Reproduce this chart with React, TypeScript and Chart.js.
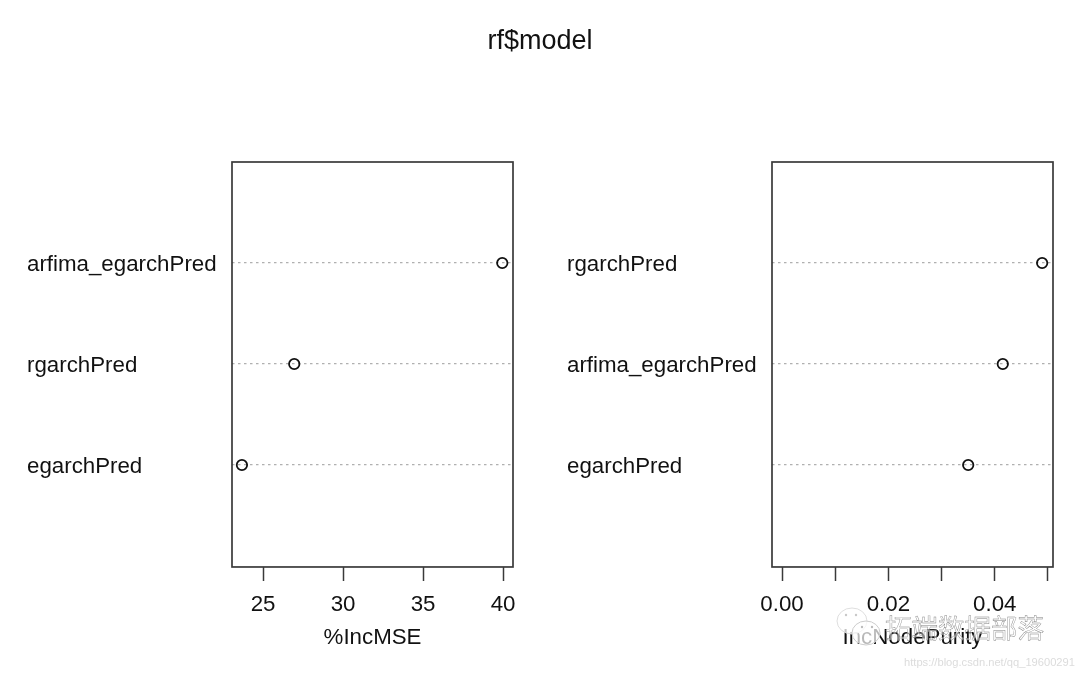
import React, { useEffect, useRef } from "react";
import { Chart, registerables } from "chart.js";

Chart.register(...registerables);

const TITLE = "rf$model";
const FONT = "'Liberation Sans', Arial, sans-serif";

const leftCategories = ["egarchPred", "rgarchPred", "arfima_egarchPred"];
const leftValues = [23.68, 26.95, 39.95];
const leftTicks = [25, 30, 35, 40];
const leftTickLabels = ["25", "30", "35", "40"];
const leftAxisTitle = "%IncMSE";

const rightCategories = ["egarchPred", "arfima_egarchPred", "rgarchPred"];
const rightValues = [0.035, 0.0415, 0.0489];
const rightTicks = [0, 0.01, 0.02, 0.03, 0.04, 0.05];
const rightTickLabels = ["0.00", "", "0.02", "", "0.04", ""];
const rightAxisTitle = "IncNodePurity";

const INK = "#3a3a3a";
const TEXT = "#111111";

function makeChart(
  canvas: HTMLCanvasElement,
  categories: string[],
  values: number[],
  ticks: number[],
  tickLabels: string[],
  axisTitle: string,
  xMin: number,
  xMax: number
) {
  const frame = {
    id: "frame",
    afterDraw(chart: any) {
      const { ctx, chartArea: a } = chart;
      ctx.save();
      ctx.strokeStyle = INK;
      ctx.lineWidth = 1.7;
      ctx.strokeRect(a.left, a.top, a.right - a.left, a.bottom - a.top);
      ctx.restore();
    },
  };
  return new Chart(canvas, {
    type: "scatter",
    data: {
      datasets: [
        {
          data: values.map((v, i) => ({ x: v, y: i + 1 })),
          showLine: false,
          pointRadius: 5.2,
          pointBorderWidth: 1.8,
          pointBorderColor: "#111111",
          pointBackgroundColor: "rgba(255,255,255,0)",
        },
      ],
    },
    options: {
      animation: false,
      responsive: false,
      events: [],
      layout: { padding: { left: 27, top: 162, right: 27, bottom: 0 } },
      plugins: { legend: { display: false }, tooltip: { enabled: false }, title: { display: false } },
      scales: {
        x: {
          type: "linear",
          min: xMin,
          max: xMax,
          afterBuildTicks: (s: any) => {
            s.ticks = ticks.map((value) => ({ value }));
          },
          border: { display: false },
          grid: { drawOnChartArea: false, drawTicks: true, tickLength: 14, tickColor: INK, tickWidth: 1.5 },
          ticks: {
            autoSkip: false,
            maxRotation: 0,
            color: TEXT,
            padding: 10,
            font: { family: FONT, size: 22.3 },
            callback: (_v: any, i: number) => tickLabels[i],
          },
          title: {
            display: true,
            text: axisTitle,
            color: TEXT,
            padding: { top: -3, bottom: 23.5 },
            font: { family: FONT, size: 22.3 },
          },
        },
        y: {
          type: "linear",
          min: -0.01,
          max: 4,
          afterBuildTicks: (s: any) => {
            s.ticks = categories.map((_, i) => ({ value: i + 1 }));
          },
          afterFit: (s: any) => {
            s.width = 205;
          },
          border: { display: false, dash: [2.5, 3.5] },
          grid: { drawTicks: false, color: "#b0b0b0", lineWidth: 1.2, tickLength: 0 },
          ticks: {
            autoSkip: false,
            color: TEXT,
            crossAlign: "far",
            labelOffset: 2,
            font: { family: FONT, size: 22.3 },
            callback: (_v: any, i: number) => categories[i],
          },
        },
      },
    },
    plugins: [frame],
  } as any);
}

export default function App() {
  const leftRef = useRef<HTMLCanvasElement>(null);
  const rightRef = useRef<HTMLCanvasElement>(null);

  useEffect(() => {
    const a = makeChart(leftRef.current!, leftCategories, leftValues, leftTicks, leftTickLabels, leftAxisTitle, 23.06, 40.62);
    const b = makeChart(rightRef.current!, rightCategories, rightValues, rightTicks, rightTickLabels, rightAxisTitle, -0.00188, 0.05094);
    return () => {
      a.destroy();
      b.destroy();
    };
  }, []);

  return (
    <div style={{ position: "absolute", left: 0, top: 0, width: 1080, height: 675, background: "#ffffff", overflow: "hidden" }}>
      <canvas ref={leftRef} width={540} height={675} style={{ position: "absolute", left: 0, top: 0 }} />
      <canvas ref={rightRef} width={540} height={675} style={{ position: "absolute", left: 540, top: 0 }} />
      <div style={{ position: "absolute", left: 0, width: 1080, top: 25, textAlign: "center", fontFamily: FONT, fontSize: 27, lineHeight: "30px", color: TEXT }}>{TITLE}</div>
      <svg width={60} height={45} viewBox="0 0 60 45" style={{ position: "absolute", left: 832, top: 607 }}>
        <ellipse cx={20} cy={14} rx={15} ry={13} fill="rgba(255,255,255,0.75)" stroke="#dedede" strokeWidth={1} />
        <ellipse cx={34} cy={26} rx={14} ry={12} fill="rgba(255,255,255,0.7)" stroke="#cccccc" strokeWidth={1} />
        <circle cx={14} cy={8} r={1.2} fill="#c8c8c8" />
        <circle cx={24} cy={8} r={1.2} fill="#c8c8c8" />
        <circle cx={30} cy={20} r={1.2} fill="#bcbcbc" />
        <circle cx={40} cy={20} r={1.2} fill="#bcbcbc" />
      </svg>
      <div style={{ position: "absolute", left: 885, top: 609, fontFamily: "'Noto Sans CJK SC'", fontSize: 26.5, lineHeight: "36px", whiteSpace: "nowrap", color: "rgba(255,255,255,0.5)", WebkitTextStroke: "0.4px #7f7f7f" }}>拓端数据部落</div>
      <div style={{ position: "absolute", left: 904, top: 655, fontFamily: FONT, fontSize: 11.15, lineHeight: "14px", whiteSpace: "nowrap", color: "#dcdcdc" }}>https://blog.csdn.net/qq_19600291</div>
    </div>
  );
}
